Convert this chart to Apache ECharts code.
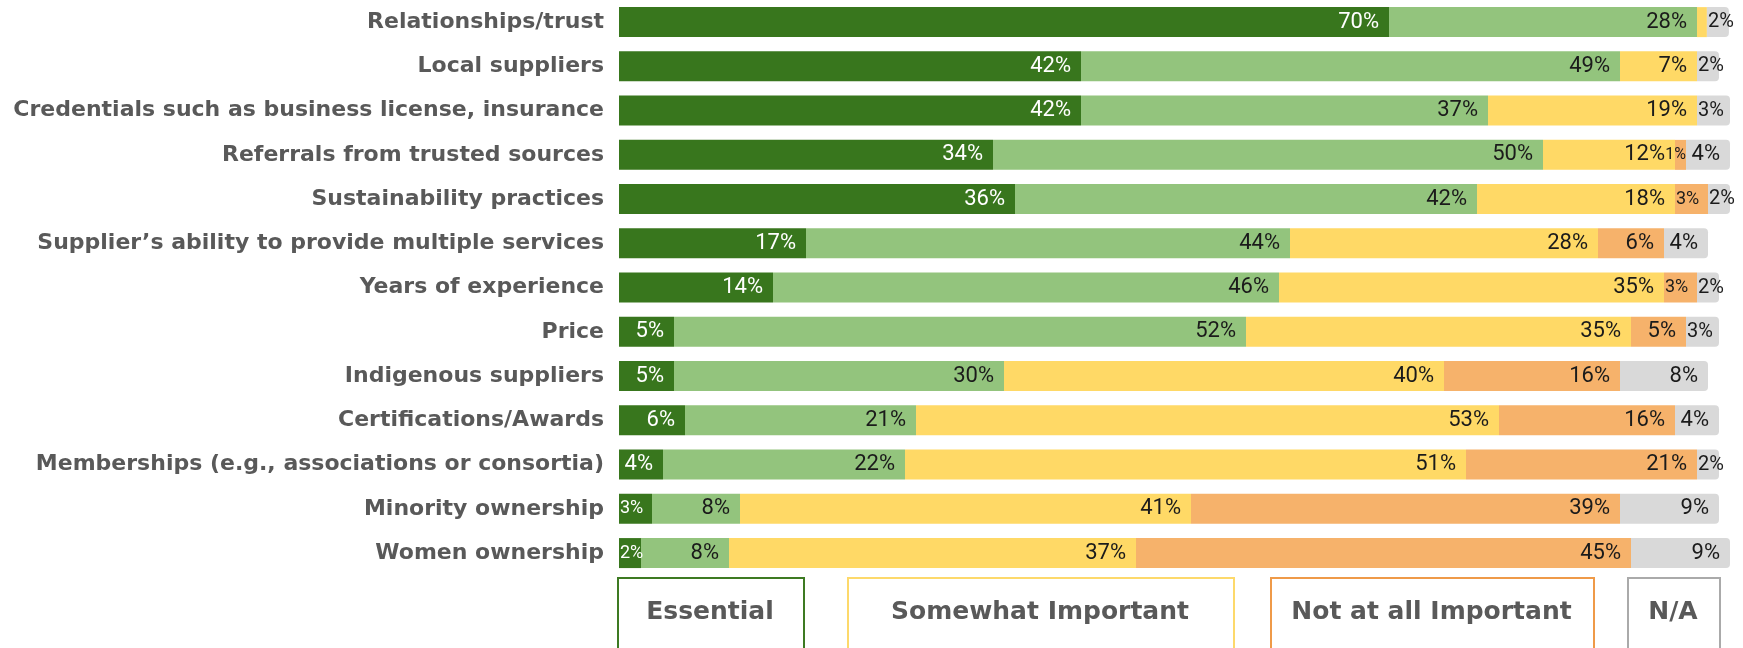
<!DOCTYPE html>
<html>
<head>
<meta charset="utf-8">
<script src="https://cdn.jsdelivr.net/npm/echarts@6/dist/echarts.min.js"></script>
<style>
  html, body { margin: 0; padding: 0; background: #ffffff; }
  #chart { width: 1743px; height: 648px; }
</style>
</head>
<body>
<div id="chart"></div>
<script>
// Supplier selection factors, share of respondents by rating (%)
const categories = [
  'Relationships/trust',
  'Local suppliers',
  'Credentials such as business license, insurance',
  'Referrals from trusted sources',
  'Sustainability practices',
  'Supplier\u2019s ability to provide multiple services',
  'Years of experience',
  'Price',
  'Indigenous suppliers',
  'Certifications/Awards',
  'Memberships (e.g., associations or consortia)',
  'Minority ownership',
  'Women ownership'
];
const essential   = [70, 42, 42, 34, 36, 17, 14,  5,  5,  6,  4,  3,  2];
const important   = [28, 49, 37, 50, 42, 44, 46, 52, 30, 21, 22,  8,  8];
const somewhat    = [0.9, 7, 19, 12, 18, 28, 35, 35, 40, 53, 51, 41, 37];
const notAtAll    = [ 0,  0,  0,  1,  3,  6,  3,  5, 16, 16, 21, 39, 45];
const notApplic   = [ 2,  2,  3,  4,  2,  4,  2,  3,  8,  4,  2,  9,  9];

const seriesNames = ['Essential', 'Important', 'Somewhat Important', 'Not at all Important', 'N/A'];
const seriesColors = ['#38761d', '#93c47d', '#ffd966', '#f6b26b', '#d9d9d9'];
const legendBorders = ['#3d7a22', null, '#fdd96b', '#ef9a48', '#aaaaaa'];

const LABEL_FONT = 'Roboto, "Noto Sans", sans-serif';
const TITLE_FONT = '"DejaVu Sans", "Open Sans", sans-serif';

const columns = [essential, important, somewhat, notAtAll, notApplic];

// Narrow segments get a smaller label anchored to their start
function segment(v) {
  if (v < 1) return { value: v, label: { show: false } };
  if (v < 2) return { value: v, label: { position: 'insideRight', distance: 0 } };
  if (v <= 3) return { value: v, label: { position: 'insideLeft', distance: 1 } };
  return { value: v };
}

const series = columns.map((col, i) => {
  const isLast = i === columns.length - 1;
  const color = i === 0 ? '#ffffff' : '#1b1b1b';
  return {
    name: seriesNames[i],
    type: 'bar',
    stack: 'total',
    barWidth: 30,
    clip: false,
    itemStyle: {
      color: seriesColors[i],
      borderRadius: isLast ? [0, 4, 4, 0] : 0
    },
    label: {
      show: true,
      position: 'insideRight',
      distance: 10,
      color: color,
      fontFamily: LABEL_FONT,
      fontSize: 22,
      overflow: 'none',
      formatter: p => {
        const v = p.value;
        if (v < 1) return '';
        const txt = Math.round(v) + '%';
        if (v < 2) return '{xs|' + txt + '}';
        if (v <= 3) return (isLast ? '{md|' : '{sm|') + txt + '}';
        return txt;
      },
      rich: {
        xs: { fontSize: 16, color: color, fontFamily: LABEL_FONT },
        sm: { fontSize: 18, color: color, fontFamily: LABEL_FONT },
        md: { fontSize: 20, color: color, fontFamily: LABEL_FONT }
      }
    },
    emphasis: { disabled: true },
    data: col.map(v => segment(v))
  };
});

// Boxed legend keys below the bars
const legendBoxes = [
  { idx: 0, x: 617, w: 186 },
  { idx: 2, x: 847, w: 386 },
  { idx: 3, x: 1270, w: 323 },
  { idx: 4, x: 1627, w: 92 }
];
const graphic = [];
legendBoxes.forEach(b => {
  graphic.push({
    type: 'rect',
    left: b.x, top: 577,
    shape: { width: b.w, height: 90 },
    style: { fill: '#ffffff', stroke: legendBorders[b.idx], lineWidth: 2 },
    silent: true
  });
  graphic.push({
    type: 'text',
    x: b.x + b.w / 2, y: 612,
    style: {
      text: seriesNames[b.idx],
      fill: '#595959',
      font: '700 25px ' + TITLE_FONT,
      align: 'center',
      verticalAlign: 'middle'
    },
    silent: true
  });
});

const chart = echarts.init(document.getElementById('chart'), null, { renderer: 'canvas' });
chart.setOption({
  animation: false,
  backgroundColor: '#ffffff',
  grid: { left: 619, right: 24, top: -1.7, bottom: 72.8, containLabel: false },
  xAxis: {
    type: 'value', min: 0, max: 100,
    show: false
  },
  yAxis: {
    type: 'category',
    inverse: true,
    data: categories,
    axisLine: { show: false },
    axisTick: { show: false },
    splitLine: { show: false },
    axisLabel: {
      margin: 15,
      color: '#595959',
      fontFamily: TITLE_FONT,
      fontWeight: 700,
      fontSize: 22
    }
  },
  series: series,
  graphic: graphic
});
</script>
</body>
</html>
